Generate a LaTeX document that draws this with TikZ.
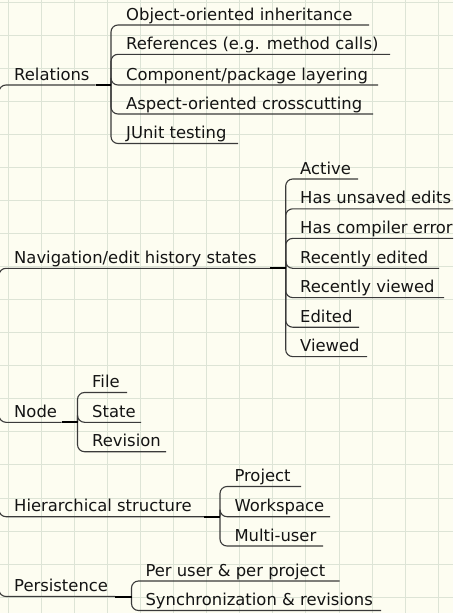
\documentclass[tikz,border=0pt]{standalone}
\usepackage{fontspec}
\setmainfont{DejaVu Sans}
\definecolor{paper}{HTML}{FDFDF1}
\definecolor{gridc}{HTML}{DDE4D6}
\definecolor{linkc}{HTML}{3A3A3A}
\definecolor{textc}{HTML}{141414}
\begin{document}
\begin{tikzpicture}[x=1pt,y=-1pt,
  gridline/.style={draw=gridc, line width=1pt},
  link/.style={draw=linkc, line width=1.1pt, rounded corners=7pt},
  stub/.style={draw=black, line width=2pt},
  lbl/.style={anchor=base west, inner sep=0pt, text=textc,
              font=\fontsize{16.4}{19}\selectfont}]
% canvas and squared paper
\useasboundingbox (0,0) rectangle (453,613);
\clip (0,0) rectangle (453,613);
\fill[paper] (0,0) rectangle (453,613);
\foreach \i in {0,...,13} \draw[gridline] ({8.33+33.07*\i},0) -- ++(0,613);
\foreach \j in {0,...,18} \draw[gridline] (0,{2+33.07*\j}) -- ++(453,0);

% root sits just off the left edge
\coordinate (root) at (-1,345);

% ---------------- Relations ----------------
\node[lbl] (rel) at (14,80) {Relations};
\coordinate (rel-u) at (95.5,85);
\coordinate (rel-j) at (111,85);
\node[lbl] (obj)   at (126,20)    {Object-oriented inheritance};
\node[lbl] (ref)   at (126,49.3)  {References (e.g. method calls)};
\node[lbl] (comp)  at (126,80)    {Component/package layering};
\node[lbl] (asp)   at (126,109)   {Aspect-oriented crosscutting};
\node[lbl] (junit) at (126,138.5) {JUnit testing};
\coordinate (obj-u)   at (369,25);
\coordinate (ref-u)   at (390,54.3);
\coordinate (comp-u)  at (378,85);
\coordinate (asp-u)   at (373,114);
\coordinate (junit-u) at (238,143.5);
\draw[link] (root) |- (rel-u);
\foreach \c in {obj,ref,comp,asp,junit} \draw[link] (rel-j) |- (\c-u);
\draw[stub] (rel-u) -- (rel-j);

% ---------------- Navigation/edit history states ----------------
\node[lbl] (nav) at (14,263.3) {Navigation/edit history states};
\coordinate (nav-u) at (270,268.3);
\coordinate (nav-j) at (285.7,268.3);
\node[lbl] (active)  at (300,174)   {Active};
\node[lbl] (unsaved) at (300,203.8) {Has unsaved edits};
\node[lbl] (cerr)    at (300,233.4) {Has compiler error};
\node[lbl] (redit)   at (300,263.3) {Recently edited};
\node[lbl] (rview)   at (300,292.6) {Recently viewed};
\node[lbl] (edited)  at (300,322.2) {Edited};
\node[lbl] (viewed)  at (300,351.6) {Viewed};
\coordinate (active-u)  at (358,179);
\coordinate (unsaved-u) at (460,208.8);
\coordinate (cerr-u)    at (460,238.4);
\coordinate (redit-u)   at (439,268.3);
\coordinate (rview-u)   at (444,297.6);
\coordinate (edited-u)  at (359,327.2);
\coordinate (viewed-u)  at (367,356.6);
\draw[link] (root) |- (nav-u);
\foreach \c in {active,unsaved,cerr,redit,rview,edited,viewed} \draw[link] (nav-j) |- (\c-u);
\draw[stub] (nav-u) -- (nav-j);

% ---------------- Node ----------------
\node[lbl] (nd) at (14,417.3) {Node};
\coordinate (nd-u) at (61.7,422.3);
\coordinate (nd-j) at (77.5,422.3);
\node[lbl] (file)  at (92,387.5)  {File};
\node[lbl] (state) at (92,417.3)  {State};
\node[lbl] (rev)   at (92,446.7)  {Revision};
\coordinate (file-u)  at (127,392.5);
\coordinate (state-u) at (141,422.3);
\coordinate (rev-u)   at (166,451.7);
\draw[link] (root) |- (nd-u);
\foreach \c in {file,state,rev} \draw[link] (nd-j) |- (\c-u);
\draw[stub] (nd-u) -- (nd-j);

% ---------------- Hierarchical structure ----------------
\node[lbl] (hier) at (14,511.7) {Hierarchical structure};
\coordinate (hier-u) at (204,516.7);
\coordinate (hier-j) at (220,516.7);
\node[lbl] (proj)  at (234.3,481.5) {Project};
\node[lbl] (wspc)  at (234.3,511.7) {Workspace};
\node[lbl] (multi) at (234.3,541)   {Multi-user};
\coordinate (proj-u)  at (301,486.5);
\coordinate (wspc-u)  at (330,516.7);
\coordinate (multi-u) at (323,546);
\draw[link] (root) |- (hier-u);
\foreach \c in {proj,wspc,multi} \draw[link] (hier-j) |- (\c-u);
\draw[stub] (hier-u) -- (hier-j);

% ---------------- Persistence ----------------
\node[lbl] (pers) at (14,591.5) {Persistence};
\coordinate (pers-u) at (115,596.5);
\coordinate (pers-j) at (131.5,596.5);
\node[lbl] (peru) at (145.3,576)   {Per user \& per project};
\node[lbl] (sync) at (145.3,605.5) {Synchronization \& revisions};
\coordinate (peru-u) at (339.5,581);
\coordinate (sync-u) at (381,610.5);
\draw[link] (root) |- (pers-u);
\foreach \c in {peru,sync} \draw[link] (pers-j) |- (\c-u);
\draw[stub] (pers-u) -- (pers-j);
\end{tikzpicture}
\end{document}
